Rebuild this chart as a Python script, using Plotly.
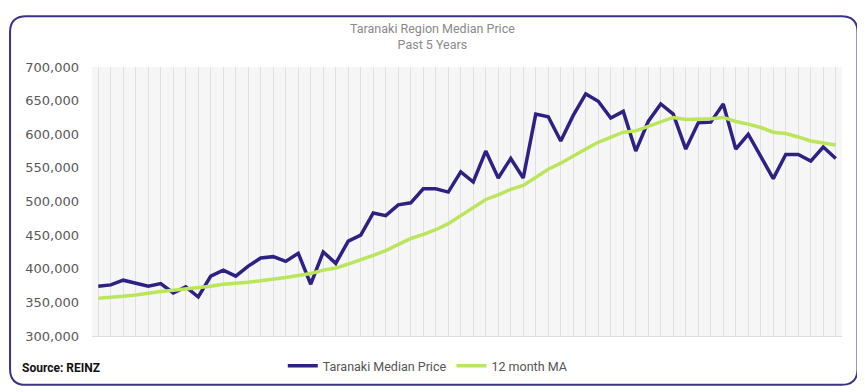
import plotly.graph_objects as go

# ---- data ----
month_index = list(range(60))
median_price = [374, 376, 383, 378, 374, 378, 364, 373, 358, 389,
                398, 389, 404, 416, 418, 411, 423, 377, 425, 408,
                441, 450, 483, 479, 495, 498, 519, 519, 514, 544,
                529, 575, 535, 564, 535, 630, 626, 590, 628, 660,
                649, 624, 634, 575, 619, 645, 630, 578, 617, 618,
                645, 578, 600, 567, 534, 570, 570, 560, 581, 564]
ma_12 = [356, 357, 359, 361, 364, 366, 368, 370, 371, 374,
         377, 378, 380, 382, 384, 387, 390, 393, 398, 401,
         407, 413, 420, 427, 436, 445, 451, 458, 467, 479,
         491, 503, 510, 518, 524, 536, 548, 557, 568, 578,
         588, 596, 603, 605, 612, 618, 625, 622, 622, 623,
         625, 619, 615, 610, 603, 601, 596, 590, 587, 584]
median_price = [v * 1000 for v in median_price]
ma_12 = [v * 1000 for v in ma_12]
y_ticks = [300000, 350000, 400000, 450000, 500000, 550000, 600000, 650000, 700000]
y_tick_labels = ["300,000", "350,000", "400,000", "450,000", "500,000",
                 "550,000", "600,000", "650,000", "700,000"]

# page body has an 8px margin; size the figure to fill the rest of the window
OFF = 8
W, H = 865 - OFF, 392 - OFF
L, R, T, B = 92 - OFF, 22.5, 67 - OFF, 55
PW, PH = W - L - R, H - T - B

def px(x):
    return (x - OFF - L) / PW

def py(y):
    return (H - B - (y - OFF)) / PH

fig = go.Figure()
fig.add_trace(go.Scatter(x=month_index, y=median_price, mode="lines",
                         name="Taranaki Median Price",
                         line=dict(color="#2d2284", width=3.5)))
fig.add_trace(go.Scatter(x=month_index, y=ma_12, mode="lines",
                         name="12 month MA",
                         line=dict(color="#b9e65b", width=3.5)))

# rounded frame
x0, x1, y0, y1, r = 10, 858, 16, 386, 16
path = (f"M {px(x0+r)},{py(y0)} L {px(x1-r)},{py(y0)} "
        f"Q {px(x1)},{py(y0)} {px(x1)},{py(y0+r)} "
        f"L {px(x1)},{py(y1-r)} Q {px(x1)},{py(y1)} {px(x1-r)},{py(y1)} "
        f"L {px(x0+r)},{py(y1)} Q {px(x0)},{py(y1)} {px(x0)},{py(y1-r)} "
        f"L {px(x0)},{py(y0+r)} Q {px(x0)},{py(y0)} {px(x0+r)},{py(y0)} Z")
fig.add_shape(type="path", path=path, xref="paper", yref="paper",
              line=dict(color="#3b3486", width=2), layer="above")

fig.add_annotation(text="Taranaki Region Median Price<br>Past 5 Years",
                   x=px(433), y=py(36), xref="paper", yref="paper",
                   xanchor="center", yanchor="middle", showarrow=False,
                   font=dict(family="Roboto", size=12.5, color="#8a8a8a"))
fig.add_annotation(text="<b>Source: REINZ</b>", x=px(20), y=py(369),
                   xref="paper", yref="paper", xanchor="left", yanchor="middle",
                   showarrow=False,
                   font=dict(family="Roboto", size=12, color="#111111"))

fig.update_layout(
    width=W, height=H,
    margin=dict(l=L, r=R, t=T, b=B),
    paper_bgcolor="white",
    plot_bgcolor="#f6f6f6",
    showlegend=True,
    legend=dict(orientation="h", x=px(428), y=py(366), xanchor="center",
                yanchor="middle", font=dict(family="Roboto", size=12.5, color="#555555"),
                bgcolor="rgba(0,0,0,0)", itemwidth=30, tracegroupgap=0),
    xaxis=dict(range=[-0.5, 59.5], tickvals=month_index, showticklabels=False,
               showgrid=True, gridcolor="#e0e0e0", gridwidth=1, zeroline=False,
               showline=True, linecolor="#dcdcdc", ticks=""),
    yaxis=dict(range=[300000, 700000], tickvals=y_ticks, ticktext=y_tick_labels,
               showgrid=False, zeroline=False, ticks="", ticklabelstandoff=12,
               tickfont=dict(family="DejaVu Sans", size=13, color="#595959")),
)

fig.write_html("out.html")
